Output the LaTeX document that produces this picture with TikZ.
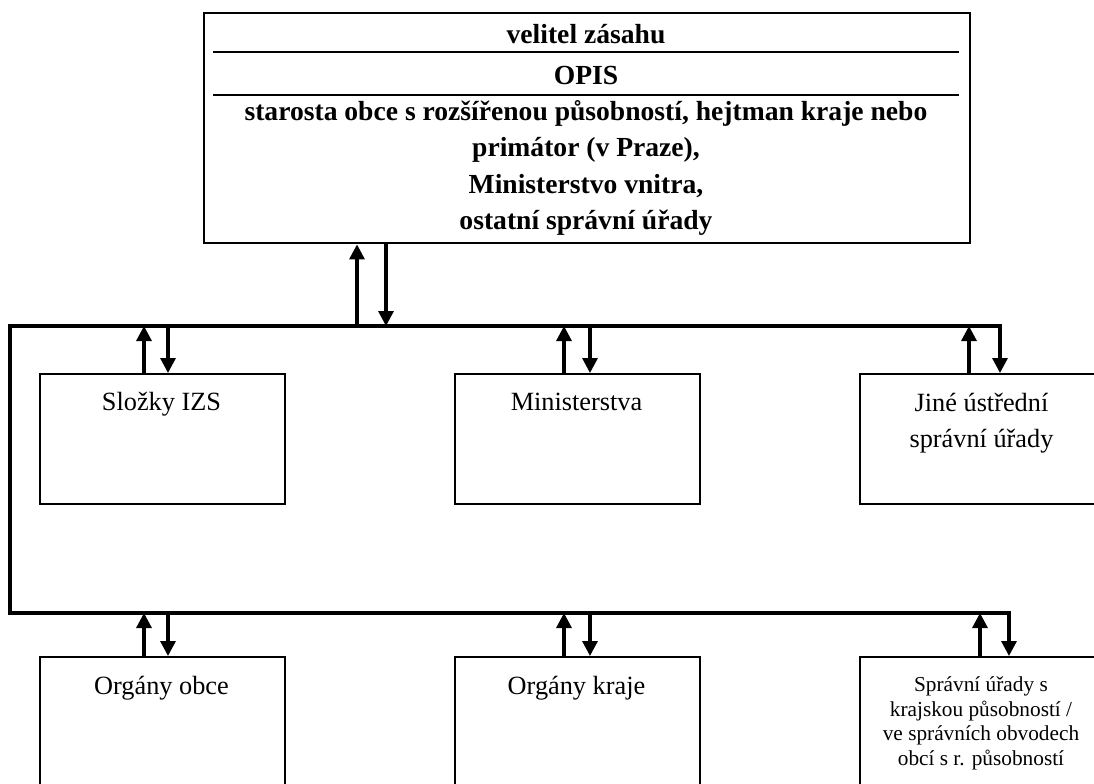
\documentclass[tikz,border=0pt]{standalone}
\usepackage{fontspec}
\setmainfont{Liberation Serif}
\usetikzlibrary{arrows.meta}
\begin{document}
\begin{tikzpicture}[x=0.5pt,y=-0.5pt,
  frame/.style={draw, line width=1.1pt, inner sep=0pt, anchor=north west,
    minimum width=122.5pt},
  rule/.style={line width=1.1pt},
  tip/.style={-{Triangle[length=7.5pt,width=7.5pt]}},
  arr/.style={line width=1.6pt, tip},
  bus/.style={line width=1.6pt, {Triangle[length=7.5pt,width=7.5pt]}-{Triangle[length=7.5pt,width=7.5pt]}},
  txt/.style={inner sep=0pt, text height=0.7em, text depth=0.2em,
    font=\fontsize{13.15}{18}\selectfont},
  bold/.style={inner sep=0pt, text height=0.7em, text depth=0.2em,
    font=\fontsize{13.8}{18}\selectfont\bfseries},
  small/.style={inner sep=0pt, text height=0.7em, text depth=0.2em,
    font=\fontsize{10.65}{12.25}\selectfont},
]
\useasboundingbox (0,0) rectangle (1094,783);
\clip (0,0) rectangle (1094,783);

% command box with its three sections
\node[frame, line width=1.2pt, minimum width=383pt, minimum height=115pt] (top) at (203,12) {};
\draw[rule] (213,52) -- (959,52);
\draw[rule] (213,95) -- (959,95);
\node[bold] (t1) at (586,38) {velitel zásahu};
\node[bold] (t2) at (586,79) {OPIS};
\node[bold] (t3) at (586,115) {starosta obce s rozšířenou působností, hejtman kraje nebo};
\node[bold] (t4) at (586,151) {primátor (v Praze),};
\node[bold] (t5) at (586,188) {Ministerstvo vnitra,};
\node[bold] (t6) at (586,224) {ostatní správní úřady};

% central level
\node[frame, minimum height=65pt] (slozky) at (39,373) {};
\node[frame, minimum height=65pt] (minist) at (454,373) {};
\node[frame, minimum height=65pt] (jine) at (859,373) {};
\node[txt] (l1) at (161.5,405) {Složky IZS};
\node[txt] (l2) at (576.5,405) {Ministerstva};
\node[txt] (l3) at (981.5,406) {Jiné ústřední};
\node[txt] (l3b) at (981.5,442) {správní úřady};

% regional and local level
\node[frame, minimum height=80pt] (obce) at (39,656) {};
\node[frame, minimum height=80pt] (kraje) at (454,656) {};
\node[frame, minimum height=80pt] (sprav) at (859,656) {};
\node[txt] (l4) at (161.5,689) {Orgány obce};
\node[txt] (l5) at (576.5,689) {Orgány kraje};
\node[small] (s1) at (981,686) {Správní úřady s};
\node[small] (s2) at (981,711) {krajskou působností /};
\node[small] (s3) at (981,735) {ve správních obvodech};
\node[small] (s4) at (981,760) {obcí s r. působností};

% bus lines
\coordinate (busL) at (10,326);
\coordinate (busR) at (1000,326);
\coordinate (lowL) at (10,613);
\coordinate (lowR) at (1009,613);
\draw[bus] (jine.north -| busR) -- (busR) -- (busL) -- (lowL) -- (lowR) -- (sprav.north -| lowR);

% links between the command box and the upper bus
\coordinate (tu) at (357,326);
\coordinate (td) at (386,326);
\draw[arr] (tu) -- (top.south -| tu);
\draw[arr] (top.south -| td) -- (td);

% links of the central level
\coordinate (u1) at (144,326);
\coordinate (d1) at (168,326);
\coordinate (u2) at (564,326);
\coordinate (d2) at (590,326);
\coordinate (u3) at (969,326);
\draw[arr] (slozky.north -| u1) -- (u1);
\draw[arr] (d1) -- (slozky.north -| d1);
\draw[arr] (minist.north -| u2) -- (u2);
\draw[arr] (d2) -- (minist.north -| d2);
\draw[arr] (jine.north -| u3) -- (u3);

% links of the regional and local level
\coordinate (u4) at (144,613);
\coordinate (d4) at (168,613);
\coordinate (u5) at (564,613);
\coordinate (d5) at (590,613);
\coordinate (u6) at (980,613);
\draw[arr] (obce.north -| u4) -- (u4);
\draw[arr] (d4) -- (obce.north -| d4);
\draw[arr] (kraje.north -| u5) -- (u5);
\draw[arr] (d5) -- (kraje.north -| d5);
\draw[arr] (sprav.north -| u6) -- (u6);
\end{tikzpicture}
\end{document}
